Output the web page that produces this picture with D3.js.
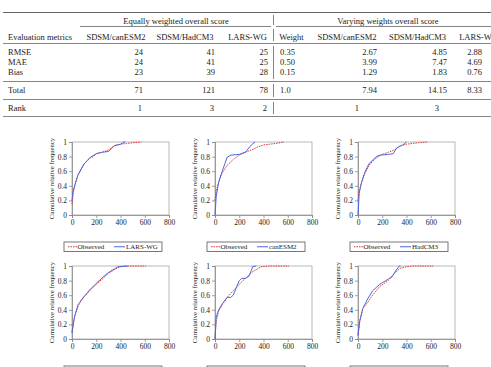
<!DOCTYPE html>
<html>
<head>
<meta charset="utf-8">
<script src="https://cdn.jsdelivr.net/npm/d3@7"></script>
<style>
  body { margin: 0; background: #fff; }
  svg { display: block; font-family: "Liberation Serif", "Times New Roman", serif; }
</style>
</head>
<body>
<svg id="chart" width="491" height="367"></svg>
<script>
// ---- table data ----
const metrics = ["RMSE", "MAE", "Bias"];
const models = ["SDSM/canESM2", "SDSM/HadCM3", "LARS-WG"];
const equalScores = [[24, 41, 25], [24, 41, 25], [23, 39, 28]];
const equalTotal = [71, 121, 78];
const equalRank = [1, 3, 2];
const weights = ["0.35", "0.50", "0.15"];
const weightTotal = "1.0";
const varyScores = [["2.67", "4.85", "2.88"], ["3.99", "7.47", "4.69"], ["1.29", "1.83", "0.76"]];
const varyTotal = ["7.94", "14.15", "8.33"];
const varyRank = [1, 3, 2];

// ---- CDF data (x = value, y = cumulative relative frequency) ----
const obsA1 = [[0,0.15],[10,0.3],[25,0.41],[50,0.55],[75,0.63],[100,0.7],[150,0.78],[175,0.8],[200,0.84],[250,0.86],[300,0.89],[350,0.95],[400,0.97],[450,0.98],[500,0.99],[570,1.0]];
const lwgA1 = [[0,0.2],[10,0.33],[30,0.45],[50,0.55],[100,0.7],[150,0.79],[200,0.84],[250,0.86],[300,0.87],[320,0.9],[350,0.95],[400,0.97],[430,1.0],[440,1.0]];
const obsA2 = [[0,0.2],[10,0.33],[25,0.42],[50,0.55],[100,0.68],[150,0.76],[200,0.82],[250,0.86],[300,0.89],[350,0.93],[400,0.96],[450,0.97],[500,0.98],[570,1.0]];
const canA2 = [[0,0],[10,0.25],[30,0.45],[60,0.6],[100,0.79],[130,0.82],[200,0.83],[250,0.86],[300,0.96],[330,1.0]];
const obsA3 = [[0,0.2],[10,0.33],[25,0.42],[50,0.55],[100,0.7],[150,0.78],[200,0.83],[250,0.86],[300,0.89],[350,0.95],[400,0.97],[450,0.98],[500,0.99],[570,1.0]];
const hadA3 = [[0,0],[10,0.3],[30,0.45],[60,0.6],[90,0.7],[150,0.8],[180,0.82],[250,0.83],[290,0.84],[320,0.92],[370,0.96],[400,1.0]];
const obsB1 = [[0,0.1],[20,0.3],[50,0.45],[80,0.55],[100,0.58],[150,0.67],[200,0.75],[250,0.82],[300,0.9],[350,0.95],[400,0.99],[450,1.0],[610,1.0]];
const lwgB1 = [[0,0.08],[20,0.3],[50,0.47],[100,0.58],[150,0.68],[200,0.76],[250,0.84],[300,0.91],[350,0.96],[380,0.99],[460,1.0]];
const obsB2 = [[0,0],[10,0.25],[30,0.38],[60,0.47],[100,0.57],[150,0.66],[200,0.75],[250,0.83],[300,0.91],[350,0.96],[380,0.99],[450,1.0],[610,1.0]];
const canB2 = [[0,0],[10,0.3],[30,0.4],[60,0.48],[100,0.57],[130,0.57],[150,0.6],[200,0.8],[220,0.83],[250,0.83],[280,0.86],[300,0.94],[310,0.99],[340,1.0]];
const obsB3 = [[0,0.05],[15,0.25],[40,0.42],[80,0.5],[120,0.6],[180,0.72],[250,0.8],[300,0.9],[350,0.97],[400,0.99],[450,1.0],[620,1.0]];
const hadB3 = [[0,0.05],[15,0.25],[40,0.42],[80,0.55],[120,0.66],[180,0.75],[250,0.82],[280,0.85],[310,0.93],[340,1.0],[350,1.0]];

const xTicks = [0, 200, 400, 600, 800];
const yTicks = [0, 0.2, 0.4, 0.6, 0.8, 1];

const svg = d3.select("#chart");
const LINE = "#666";

// ---------- table ----------
const tbl = svg.append("g").attr("font-size", "8.5px").attr("fill", "#222");

function hline(y, x1, x2, w) {
  tbl.append("line").attr("x1", x1).attr("x2", x2).attr("y1", y).attr("y2", y)
    .attr("stroke", LINE).attr("stroke-width", w || 0.8);
}
function txt(x, y, s, anchor) {
  tbl.append("text").attr("x", x).attr("y", y).attr("text-anchor", anchor || "start").text(s);
}

hline(12.5, 3, 491, 1);
hline(26.5, 80, 271);
hline(26.5, 276, 491);
hline(43.5, 3, 491);
hline(81.5, 3, 491);
hline(99.5, 3, 491);
hline(116.5, 3, 491);

// vertical separator segments
[[15, 25], [29, 41], [46, 79], [84, 97], [102, 114]].forEach(s => {
  tbl.append("line").attr("x1", 273.5).attr("x2", 273.5).attr("y1", s[0]).attr("y2", s[1])
    .attr("stroke", LINE).attr("stroke-width", 0.8);
});

txt(176, 23.5, "Equally weighted overall score", "middle");
txt(388, 23.5, "Varying weights overall score", "middle");

txt(8, 40, "Evaluation metrics");
const eqHeadX = [116, 185, 247.5];
const eqValX = [143, 215, 268];
models.forEach((m, i) => txt(eqHeadX[i], 40, m, "middle"));
txt(291.5, 40, "Weight", "middle");
const vaHeadX = [347, 417.5, 478.5];
const vaValX = [377, 447, 482];
models.forEach((m, i) => txt(vaHeadX[i], 40, m, "middle"));

const rowY = [55, 65, 75];
metrics.forEach((m, r) => {
  txt(8, rowY[r], m);
  equalScores[r].forEach((v, i) => txt(eqValX[i], rowY[r], v, "end"));
  txt(280, rowY[r], weights[r]);
  varyScores[r].forEach((v, i) => txt(vaValX[i], rowY[r], v, "end"));
});

txt(8, 93, "Total");
equalTotal.forEach((v, i) => txt(eqValX[i], 93, v, "end"));
txt(280, 93, weightTotal);
varyTotal.forEach((v, i) => txt(vaValX[i], 93, v, "end"));

txt(8, 111, "Rank");
equalRank.forEach((v, i) => txt(eqValX[i] - 1, 111, v, "end"));
const vaRankX = [359, 439, 500];
varyRank.forEach((v, i) => txt(vaRankX[i], 111, v, "end"));

// ---------- CDF panels ----------
const panels = [
  { x0: 72,  y0: 142, obs: obsA1, mod: lwgA1, name: "LARS-WG" },
  { x0: 215, y0: 142, obs: obsA2, mod: canA2, name: "canESM2" },
  { x0: 358, y0: 142, obs: obsA3, mod: hadA3, name: "HadCM3" },
  { x0: 72,  y0: 266, obs: obsB1, mod: lwgB1, name: "LARS-WG" },
  { x0: 215, y0: 266, obs: obsB2, mod: canB2, name: "canESM2" },
  { x0: 358, y0: 266, obs: obsB3, mod: hadB3, name: "HadCM3" }
];
const PW = 97, PH = 73;
const RED = "#e2342f", BLUE = "#4a68e0";

panels.forEach(p => {
  const x = d3.scaleLinear().domain([0, 800]).range([p.x0, p.x0 + PW]);
  const y = d3.scaleLinear().domain([0, 1]).range([p.y0 + PH, p.y0]);
  const g = svg.append("g");

  g.append("rect").attr("x", p.x0).attr("y", p.y0).attr("width", PW).attr("height", PH)
    .attr("fill", "none").attr("stroke", "#a8a8a8").attr("stroke-width", 0.8);

  const ay = g.append("g").attr("transform", `translate(${p.x0},0)`)
    .call(d3.axisLeft(y).tickValues(yTicks).tickFormat(d3.format("~g")).tickSize(3).tickPadding(2));
  const ax = g.append("g").attr("transform", `translate(0,${p.y0 + PH})`)
    .call(d3.axisBottom(x).tickValues(xTicks).tickSize(3).tickPadding(2));
  [ax, ay].forEach(a => {
    a.attr("font-family", null).attr("font-size", "7.5px");
    a.select(".domain").attr("stroke", "#888").attr("stroke-width", 0.8);
    a.selectAll(".tick line").attr("stroke", "#888").attr("stroke-width", 0.8);
    a.selectAll(".tick text").attr("fill", "#222");
  });

  g.append("text")
    .attr("transform", `translate(${p.x0 - 18.5},${p.y0 + PH / 2}) rotate(-90)`)
    .attr("text-anchor", "middle").attr("font-size", "6.7px").attr("fill", "#222")
    .text("Cumulative relative frequency");

  const line = d3.line().x(d => x(d[0])).y(d => y(d[1]));
  g.append("path").datum(p.obs).attr("d", line).attr("fill", "none")
    .attr("stroke", RED).attr("stroke-width", 1).attr("stroke-dasharray", "1.5 1");
  g.append("path").datum(p.mod).attr("d", line).attr("fill", "none")
    .attr("stroke", BLUE).attr("stroke-width", 1);

  // legend
  const lx = p.x0 - 8, ly = p.y0 + 100;
  const lg = svg.append("g").attr("font-size", "7px").attr("fill", "#222");
  lg.append("rect").attr("x", lx).attr("y", ly).attr("width", 98).attr("height", 9.5)
    .attr("fill", "none").attr("stroke", "#555").attr("stroke-width", 0.8);
  lg.append("line").attr("x1", lx + 4).attr("x2", lx + 13).attr("y1", ly + 4.75).attr("y2", ly + 4.75)
    .attr("stroke", RED).attr("stroke-width", 1).attr("stroke-dasharray", "1.5 1");
  lg.append("text").attr("x", lx + 13.5).attr("y", ly + 7.3).text("Observed");
  lg.append("line").attr("x1", lx + 50).attr("x2", lx + 61).attr("y1", ly + 4.75).attr("y2", ly + 4.75)
    .attr("stroke", BLUE).attr("stroke-width", 1);
  lg.append("text").attr("x", lx + 62).attr("y", ly + 7.3).text(p.name);
});
</script>
</body>
</html>
